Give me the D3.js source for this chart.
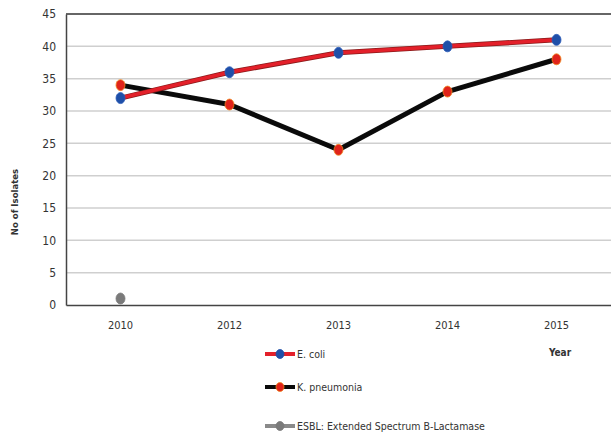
<!DOCTYPE html>
<html>
<head>
<meta charset="utf-8">
<script src="https://cdn.jsdelivr.net/npm/d3@7"></script>
<style>
  body { margin: 0; background: #fff; }
  text { font-family: "DejaVu Sans Condensed", "DejaVu Sans", sans-serif; fill: #333; }
</style>
</head>
<body>
<svg id="chart" width="611" height="436"></svg>
<script>
"use strict";

var years = ["2010", "2012", "2013", "2014", "2015"];
var ecoli = [32, 36, 39, 40, 41];
var kpneu = [34, 31, 24, 33, 38];
var esbl = [1, null, null, null, null];
var yTicks = [0, 5, 10, 15, 20, 25, 30, 35, 40, 45];

var svg = d3.select("#chart");
var plotLeft = 66, plotRight = 611, plotTop = 14, plotBottom = 305;

var x = d3.scaleBand().domain(years).range([plotLeft, plotRight]);
var y = d3.scaleLinear().domain([0, 45]).range([plotBottom, plotTop]);
var cx = function(d, i) { return x(years[i]) + x.bandwidth() / 2; };

// grid
svg.append("g")
  .selectAll("line")
  .data(yTicks.slice(1, -1))
  .enter().append("line")
  .attr("x1", plotLeft).attr("x2", plotRight)
  .attr("y1", function(d) { return y(d); })
  .attr("y2", function(d) { return y(d); })
  .attr("stroke", "#cfcfcf")
  .attr("stroke-width", 1.5);

// top border
svg.append("line")
  .attr("x1", plotLeft).attr("x2", plotRight)
  .attr("y1", y(45)).attr("y2", y(45))
  .attr("stroke", "#333").attr("stroke-width", 1.5);

// y axis
var yAxis = svg.append("g")
  .attr("transform", "translate(" + plotLeft + ",0)")
  .call(d3.axisLeft(y).tickValues(yTicks).tickSize(0).tickPadding(10));
yAxis.select(".domain").attr("stroke", "#444").attr("stroke-width", 1.5);
yAxis.selectAll("text").style("font-size", "12px").attr("fill", "#333");

// x axis
var xAxis = svg.append("g")
  .attr("transform", "translate(0," + plotBottom + ")")
  .call(d3.axisBottom(x).tickSize(0).tickPadding(16));
xAxis.select(".domain").attr("stroke", "#444").attr("stroke-width", 1.5);
xAxis.selectAll("text").style("font-size", "11px").attr("fill", "#222");

svg.append("text")
  .attr("transform", "translate(18,202) rotate(-90)")
  .attr("text-anchor", "middle")
  .style("font-size", "9.5px")
  .style("font-weight", "bold")
  .text("No of Isolates");

svg.append("text")
  .attr("x", 560).attr("y", 356)
  .attr("text-anchor", "middle")
  .style("font-size", "10px")
  .style("font-weight", "bold")
  .text("Year");

var line = d3.line()
  .x(cx)
  .y(function(d) { return y(d); });

function drawSeries(vals, lineColor, edge, dotColor, dotEdge) {
  if (lineColor) {
    svg.append("path").datum(vals)
      .attr("d", line)
      .attr("fill", "none")
      .attr("stroke", edge)
      .attr("stroke-width", 5)
      .attr("stroke-linejoin", "round");
    svg.append("path").datum(vals)
      .attr("d", line)
      .attr("fill", "none")
      .attr("stroke", lineColor)
      .attr("stroke-width", 3.5)
      .attr("stroke-linejoin", "round");
  }
  svg.append("g").selectAll("ellipse")
    .data(vals.map(function(v, i) { return { v: v, i: i }; })
      .filter(function(d) { return d.v != null; }))
    .enter().append("ellipse")
    .attr("cx", function(d) { return cx(d.v, d.i); })
    .attr("cy", function(d) { return y(d.v); })
    .attr("rx", 4.5).attr("ry", 5.5)
    .attr("fill", dotColor)
    .attr("stroke", dotEdge)
    .attr("stroke-width", 0.8);
}

drawSeries(kpneu, "#0a0a0a", "#111", "#e0231b", "#f08a20");
drawSeries(ecoli, "#e3202a", "#8a1a1a", "#1f4fa8", "#2a5ab8");
drawSeries(esbl, null, null, "#7a7a7a", "#7a7a7a");

// legend
var legend = [
  { name: "E. coli", line: "#e3202a", dot: "#1f4fa8", edge: "#1f4fa8", y: 354 },
  { name: "K. pneumonia", line: "#0a0a0a", dot: "#e0231b", edge: "#f08a20", y: 387 },
  { name: "ESBL: Extended Spectrum B-Lactamase", line: "#8a8a8a", dot: "#7a7a7a", edge: "#7a7a7a", y: 426 }
];
var lg = svg.append("g").selectAll("g").data(legend).enter().append("g")
  .attr("transform", function(d) { return "translate(265," + d.y + ")"; });
lg.append("line")
  .attr("x1", 0).attr("x2", 30)
  .attr("stroke", function(d) { return d.line; })
  .attr("stroke-width", 4);
lg.append("ellipse")
  .attr("cx", 15).attr("rx", 4).attr("ry", 4.5)
  .attr("fill", function(d) { return d.dot; })
  .attr("stroke", function(d) { return d.edge; })
  .attr("stroke-width", 0.8);
lg.append("text")
  .attr("x", 32).attr("dy", "0.35em")
  .style("font-size", "10.5px")
  .attr("fill", "#111")
  .text(function(d) { return d.name; });
</script>
</body>
</html>
